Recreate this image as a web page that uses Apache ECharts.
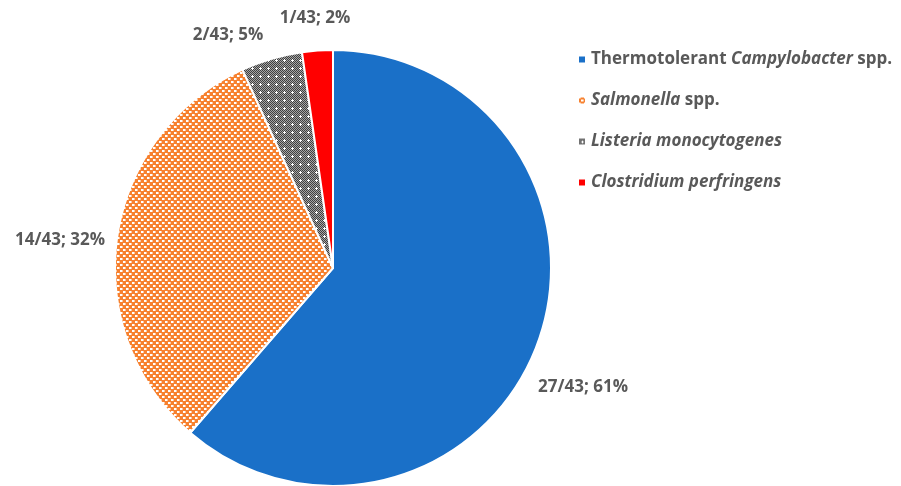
<!DOCTYPE html>
<html>
<head>
<meta charset="utf-8">
<script src="https://cdn.jsdelivr.net/npm/echarts@6/dist/echarts.min.js"></script>
<style>
  html, body { margin: 0; padding: 0; background: #fff; }
  #chart { width: 901px; height: 486px; }
</style>
</head>
<body>
<div id="chart"></div>
<script>
// values
const categories = ['Thermotolerant Campylobacter spp.', 'Salmonella spp.', 'Listeria monocytogenes', 'Clostridium perfringens'];
const counts = [27, 14, 2, 1];
const labelTexts = ['27/43; 61%', '14/43; 32%', '2/43; 5%', '1/43; 2%'];
const legendTexts = [
    'Thermotolerant {i|Campylobacter} spp.',
    '{i|Salmonella} spp.',
    '{i|Listeria monocytogenes}',
    '{i|Clostridium perfringens}',
];
// label centres (px) for each slice
const labelPos = [[583, 387], [60, 240], [228, 35], [315, 18]];

const FONT = 'Open Sans';
const TEXT = '#595959';
const SIZE = 17;

// checker patterns like the office fills
function orangeChecker() {
    const c = document.createElement('canvas');
    c.width = 6; c.height = 6;
    const ctx = c.getContext('2d');
    ctx.fillStyle = '#f7812f';
    ctx.fillRect(0, 0, 6, 6);
    ctx.fillStyle = '#fff';
    ctx.fillRect(0, 0, 2, 2);
    ctx.fillRect(3, 3, 2, 2);
    ctx.fillStyle = '#fbc7a1';
    ctx.fillRect(2, 0, 1, 2);
    ctx.fillRect(5, 3, 1, 2);
    return c;
}

function grayChecker() {
    const c = document.createElement('canvas');
    c.width = 8; c.height = 8;
    const ctx = c.getContext('2d');
    for (let y = 0; y < 8; y++) {
        for (let x = 0; x < 8; x++) {
            ctx.fillStyle = (x + y) % 2 ? '#a6a6a6' : '#3f3f3f';
            ctx.fillRect(x, y, 1, 1);
        }
    }
    ctx.fillStyle = '#fff';
    ctx.fillRect(3, 4, 3, 1);
    ctx.fillRect(4, 3, 1, 3);
    return c;
}

const fills = [
    '#1a70c8',
    { image: orangeChecker(), repeat: 'repeat' },
    { image: grayChecker(), repeat: 'repeat' },
    '#ff0000',
];

const chart = echarts.init(document.getElementById('chart'));

const option = {
    animation: false,
    textStyle: { fontFamily: FONT },
    legend: {
        orient: 'vertical',
        left: 572,
        top: 46,
        icon: 'rect',
        itemWidth: 8,
        itemHeight: 8,
        itemGap: 24,
        data: categories,
        formatter: (name) => legendTexts[categories.indexOf(name)],
        textStyle: {
            color: TEXT,
            fontSize: SIZE,
            fontWeight: 'bold',
            fontFamily: FONT,
            rich: {
                i: {
                    color: TEXT,
                    fontSize: SIZE,
                    fontWeight: 'bold',
                    fontStyle: 'italic',
                    fontFamily: FONT,
                },
            },
        },
    },
    series: [
        {
            type: 'pie',
            center: [333, 268],
            radius: 218,
            startAngle: 90,
            clockwise: true,
            itemStyle: {
                borderColor: '#fff',
                borderWidth: 2,
            },
            label: {
                show: true,
                position: 'outside',
                overflow: 'none',
                color: TEXT,
                fontSize: SIZE,
                fontWeight: 'bold',
                fontFamily: FONT,
                formatter: (p) => labelTexts[p.dataIndex],
            },
            labelLine: { show: false },
            labelLayout: (p) => ({
                x: labelPos[p.dataIndex][0],
                y: labelPos[p.dataIndex][1],
                align: 'center',
                verticalAlign: 'middle',
            }),
            emphasis: { disabled: true },
            data: categories.map((name, i) => ({
                name: name,
                value: counts[i],
                itemStyle: { color: fills[i] },
            })),
        },
    ],
};

chart.setOption(option);
</script>
</body>
</html>
